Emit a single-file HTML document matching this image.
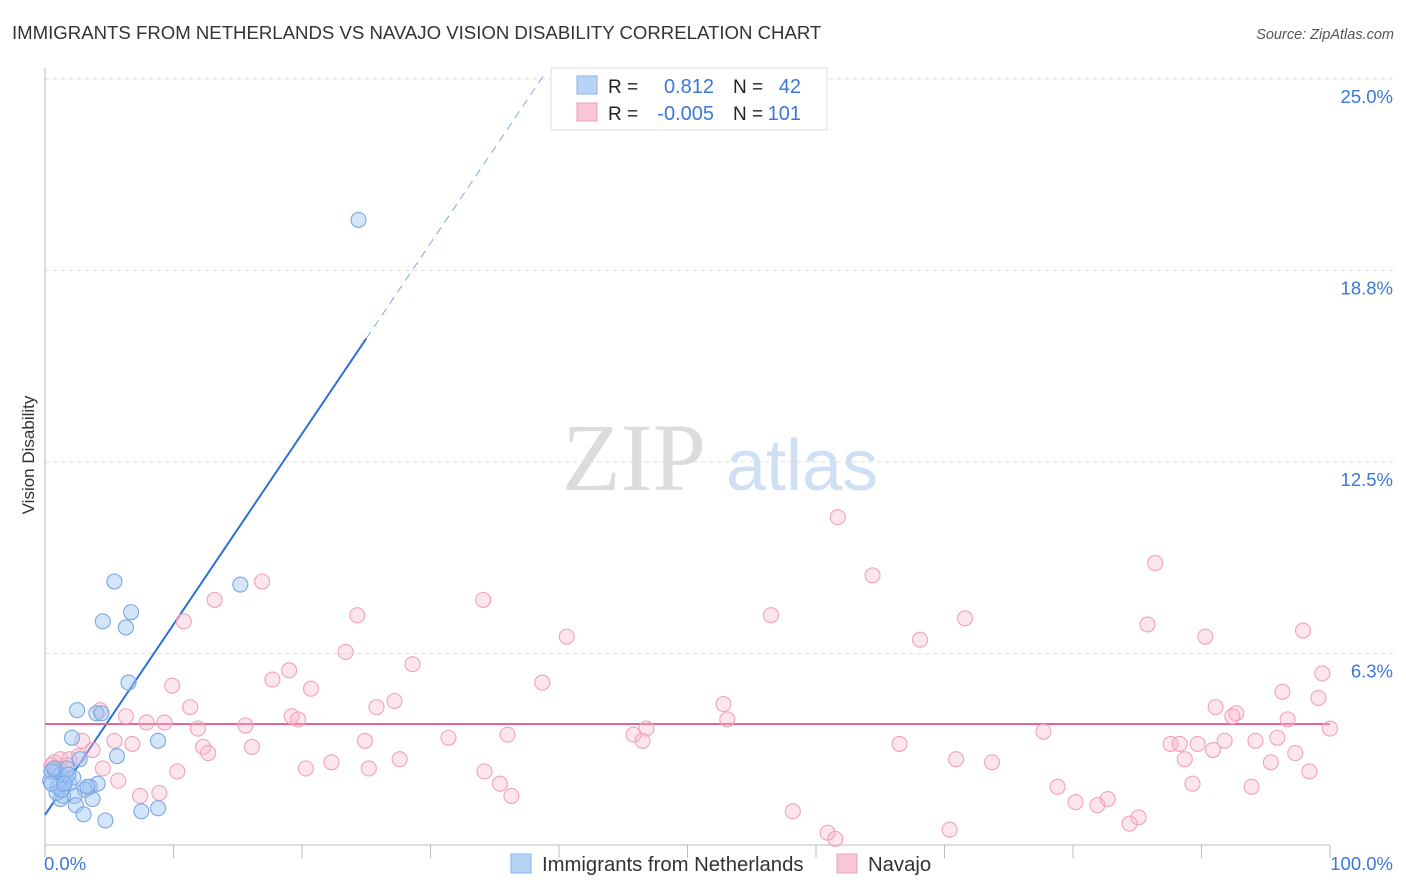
<!DOCTYPE html>
<html><head><meta charset="utf-8"><style>
body{margin:0;background:#fff;font-family:"Liberation Sans",sans-serif;}
svg{display:block}
</style></head><body>
<svg id="chart" width="1406" height="892" xmlns="http://www.w3.org/2000/svg">
<text x="12" y="39" font-size="18.6" fill="#333">IMMIGRANTS FROM NETHERLANDS VS NAVAJO VISION DISABILITY CORRELATION CHART</text>
<text x="1394" y="39" font-size="14.5" fill="#555" font-style="italic" text-anchor="end">Source: ZipAtlas.com</text>
<g>
<text x="634" y="490" font-size="96" font-family="Liberation Serif,serif" fill="#dcdcdc" text-anchor="middle">ZIP</text>
<text x="802" y="490" font-size="72" fill="#cfe0f5" text-anchor="middle">atlas</text>
</g>
<g id="grid"></g>
<g id="axes"></g>
<g id="lines"></g>
<g id="points"></g>
<text transform="translate(34,455) rotate(-90)" font-size="17" fill="#333" text-anchor="middle">Vision Disability</text>
<g>
<rect x="551" y="68" width="276" height="62" fill="#fff" stroke="#ddd"/>
<rect x="577" y="76" width="20" height="18" fill="#b8d3f5" stroke="#8ab4ea"/>
<rect x="577" y="103" width="20" height="18" fill="#f9c6d5" stroke="#f0a0b8"/>
<text x="608" y="93" font-size="19" fill="#222">R =</text>
<text x="714" y="93" font-size="20" fill="#3b78d8" text-anchor="end">0.812</text>
<text x="733" y="93" font-size="19" fill="#222">N =</text>
<text x="801" y="93" font-size="20" fill="#3b78d8" text-anchor="end">42</text>
<text x="608" y="120" font-size="19" fill="#222">R =</text>
<text x="714" y="120" font-size="20" fill="#3b78d8" text-anchor="end">-0.005</text>
<text x="733" y="120" font-size="19" fill="#222">N =</text>
<text x="801" y="120" font-size="20" fill="#3b78d8" text-anchor="end">101</text>
</g>
<g>
<rect x="511" y="854" width="20" height="19" fill="#b8d3f5" stroke="#8ab4ea"/>
<text x="542" y="871" font-size="20.3" fill="#333">Immigrants from Netherlands</text>
<rect x="837" y="854" width="20" height="19" fill="#f9c6d5" stroke="#f0a0b8"/>
<text x="868" y="871" font-size="20.3" fill="#333">Navajo</text>
</g>
</svg>
<script>
const yTicks=[6.25,12.5,18.75,25];
const yTickLabels=["6.3%","12.5%","18.8%","25.0%"];
const xTicks=[0,10,20,30,40,50,60,70,80,90,100];
const blueX=[24.4,5.4,15.2,6.7,4.5,6.3,6.5,2.5,4.0,4.4,8.8,2.1,5.6,2.7,0.8,1.2,1.6,0.4,1.9,3.5,4.1,3.1,2.3,1.4,3.7,1.2,2.4,8.8,7.5,3.0,4.7,0.5,1.0,1.7,2.2,0.9,1.3,3.3,0.5,1.8,1.5,0.7];
const blueY=[20.4,8.6,8.5,7.6,7.3,7.1,5.3,4.4,4.3,4.3,3.4,3.5,2.9,2.8,2.4,2.3,2.1,2.1,2.0,1.9,2.0,1.8,1.6,1.6,1.5,1.5,1.3,1.2,1.1,1.0,0.8,2.4,1.9,2.5,2.2,1.7,1.8,1.9,2.0,2.3,2.0,2.5];
const pinkX=[61.7,86.4,64.4,16.9,13.2,34.1,24.3,56.5,71.6,85.8,40.6,68.1,90.3,97.9,10.8,23.4,28.6,19.0,17.7,38.7,99.4,9.9,20.7,96.3,99.1,52.8,27.2,25.8,11.3,91.1,92.7,92.4,4.3,6.3,19.2,19.7,53.1,7.9,9.3,15.6,11.9,96.7,100,46.8,77.7,31.4,36.0,45.8,46.5,24.9,2.9,5.4,6.8,16.1,12.3,12.7,3.7,66.5,87.6,88.3,89.7,91.8,94.2,95.9,90.9,97.3,88.7,70.9,27.6,22.3,25.2,20.3,10.3,34.2,73.7,95.4,98.4,4.5,0.7,1.2,1.9,35.4,78.8,89.3,93.9,5.7,8.9,7.4,36.3,80.2,82.7,81.9,85.1,84.4,58.2,60.9,61.5,70.4,1.7,2.6,0.5,0.9];
const pinkY=[10.7,9.2,8.8,8.6,8.0,8.0,7.5,7.5,7.4,7.2,6.8,6.7,6.8,7.0,7.3,6.3,5.9,5.7,5.4,5.3,5.6,5.2,5.1,5.0,4.8,4.6,4.7,4.5,4.5,4.5,4.3,4.2,4.4,4.2,4.2,4.1,4.1,4.0,4.0,3.9,3.8,4.1,3.8,3.8,3.7,3.5,3.6,3.6,3.4,3.4,3.4,3.4,3.3,3.2,3.2,3.0,3.1,3.3,3.3,3.3,3.3,3.4,3.4,3.5,3.1,3.0,2.8,2.8,2.8,2.7,2.5,2.5,2.4,2.4,2.7,2.7,2.4,2.5,2.7,2.8,2.8,2.0,1.9,2.0,1.9,2.1,1.7,1.6,1.6,1.4,1.5,1.3,0.9,0.7,1.1,0.4,0.2,0.5,2.6,2.9,2.6,2.5];
const blueFit=[0.98,0.622];
const pinkFit=[3.95,0];
const X0=45,X1=1330,Y0=845,Y25=79;
const sx=v=>X0+(X1-X0)*v/100;
const sy=v=>Y0-(Y0-Y25)*v/25;
const NS="http://www.w3.org/2000/svg";
function mk(p,t,a){const e=document.createElementNS(NS,t);for(const k in a)e.setAttribute(k,a[k]);p.appendChild(e);return e;}
const grid=document.getElementById('grid'),axes=document.getElementById('axes'),lines=document.getElementById('lines'),pts=document.getElementById('points');
yTicks.forEach((t,i)=>{
 const g=mk(grid,'line',{x1:X0,x2:1395,y1:sy(t),y2:sy(t),stroke:'#ddd','stroke-dasharray':'4,4'});
 
 
 const l=mk(axes,'text',{x:1393,y:sy(t)+24,'font-size':18.5,fill:'#3b78d8','text-anchor':'end'});
 l.textContent=yTickLabels[i];
 
 
});
const ya=mk(axes,'line',{x1:X0,x2:X0,y1:68,y2:Y0,stroke:'#bbb'});


const xa=mk(axes,'line',{x1:X0,x2:X1,y1:Y0,y2:Y0,stroke:'#bbb'});


xTicks.forEach(t=>{
 const k=mk(axes,'line',{x1:sx(t),x2:sx(t),y1:Y0,y2:Y0+13,stroke:'#bbb'});
 
 
});
const xl0=mk(axes,'text',{x:44,y:870,'font-size':18.5,fill:'#3b78d8'});xl0.textContent='0.0%';


const xl1=mk(axes,'text',{x:1393,y:870,'font-size':18.5,fill:'#3b78d8','text-anchor':'end'});xl1.textContent='100.0%';


function drawPts(xs,ys,fill,stroke,name){xs.forEach((x,i)=>{
 const c=mk(pts,'circle',{cx:sx(x),cy:sy(ys[i]),r:7.5,fill:fill,stroke:stroke,'stroke-width':1.1});
 
 
});}
drawPts(pinkX,pinkY,'rgba(248,180,202,0.35)','#f0a2ba','navajo-point');
drawPts(blueX,blueY,'rgba(160,198,245,0.45)','#7aa7e3','netherlands-point');
const bf=x=>blueFit[0]+blueFit[1]*x;
const xEnd=(25.1-blueFit[0])/blueFit[1];
const b1=mk(lines,'line',{x1:sx(0),y1:sy(bf(0)),x2:sx(25),y2:sy(bf(25)),stroke:'#2e6fd6','stroke-width':2});


const b2=mk(lines,'line',{x1:sx(25),y1:sy(bf(25)),x2:sx(xEnd),y2:sy(bf(xEnd)),stroke:'#7fa8e6','stroke-width':1,'stroke-dasharray':'8,6'});


const p1=mk(lines,'line',{x1:sx(0),y1:sy(pinkFit[0]),x2:sx(100),y2:sy(pinkFit[0]+pinkFit[1]*100),stroke:'#e8668e','stroke-width':2});


</script>
</body></html>
